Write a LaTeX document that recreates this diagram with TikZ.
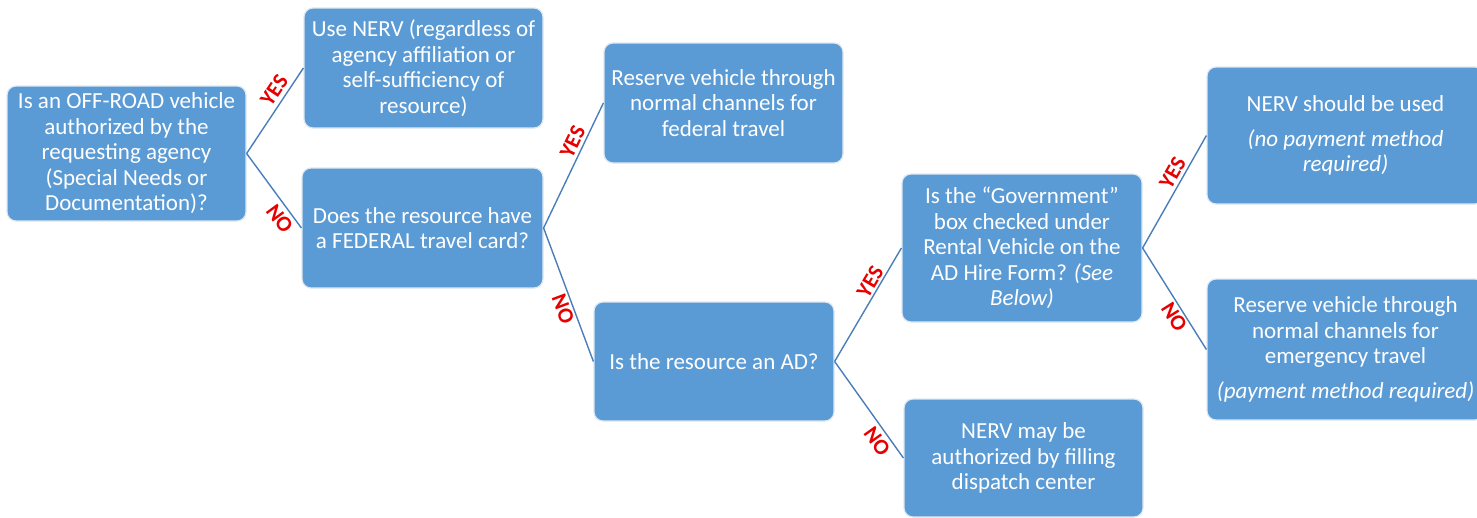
\documentclass[tikz,border=0pt]{standalone}
\usepackage{fontspec}
\setmainfont{Carlito}
\definecolor{boxfill}{RGB}{91,155,213}
\definecolor{boxline}{RGB}{222,232,242}
\definecolor{conn}{RGB}{74,126,187}
\definecolor{lblred}{RGB}{230,0,0}
\tikzset{
  box/.style={rectangle, rounded corners=9pt, fill=boxfill, draw=boxline, line width=1.2pt,
    text=white, align=center, inner sep=2pt, font=\fontsize{23}{25.5}\selectfont},
  conline/.style={draw=conn, line width=1.4pt},
  lbl/.style={font=\fontsize{22}{22}\selectfont\bfseries, text=lblred, sloped, inner sep=1pt}
}
\begin{document}
\begin{tikzpicture}[x=1pt,y=-1pt]
\useasboundingbox (0,0) rectangle (1477,517);
\node[box, minimum width=239pt, minimum height=135pt] (a) at (126.5,153.5)
  {Is an OFF-ROAD vehicle\\authorized by the\\requesting agency\\(Special Needs or\\Documentation)?};
\node[box, minimum width=239pt, minimum height=120pt] (b) at (423.5,68)
  {Use NERV (regardless of\\agency affiliation or\\self-sufficiency of\\resource)};
\node[box, minimum width=241pt, minimum height=120pt] (c) at (422.5,228)
  {Does the resource have\\a FEDERAL travel card?};
\node[box, minimum width=239pt, minimum height=120pt] (d) at (723.5,103)
  {Reserve vehicle through\\normal channels for\\federal travel};
\node[box, minimum width=240pt, minimum height=119pt] (e) at (714,361.5)
  {Is the resource an AD?};
\node[box, minimum width=240pt, minimum height=148pt] (f) at (1022,248)
  {Is the “Government”\\box checked under\\Rental Vehicle on the\\AD Hire Form? \textit{(See}\\\textit{Below)}};
\node[box, minimum width=239pt, minimum height=118pt] (g) at (1023.5,458)
  {NERV may be\\authorized by filling\\dispatch center};
\node[box, minimum width=277pt, minimum height=137pt] (h) at (1345.5,135.5)
  {NERV should be used\\[9pt]\textit{(no payment method}\\\textit{required)}};
\node[box, minimum width=277pt, minimum height=141pt] (i) at (1345.5,349.5)
  {Reserve vehicle through\\normal channels for\\emergency travel\\[9pt]\textit{(payment method required)}};

\draw[conline] (a.east) -- node[lbl, pos=0.66, above=3pt] {YES} (b.west);
\draw[conline] (a.east) -- node[lbl, pos=0.78, below=3pt] {NO} (c.west);
\draw[conline] (c.east) -- node[lbl, pos=0.65, above=2pt] {YES} (d.west);
\draw[conline] (c.east) -- node[lbl, pos=0.58, below=1pt] {NO} (e.west);
\draw[conline] (e.east) -- node[lbl, pos=0.66, above=1pt] {YES} (f.west);
\draw[conline] (e.east) -- node[lbl, pos=0.76, below=3pt] {NO} (g.west);
\draw[conline] (f.east) -- node[lbl, pos=0.62, above=2pt] {YES} (h.west);
\draw[conline] (f.east) -- node[lbl, pos=0.63, below=1pt] {NO} (i.west);
\end{tikzpicture}
\end{document}
